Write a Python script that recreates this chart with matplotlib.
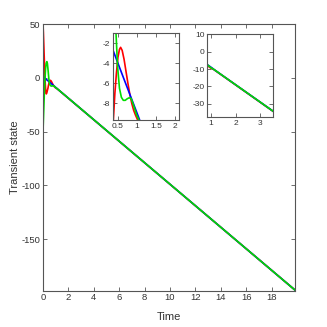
import matplotlib
matplotlib.use('Agg')
import matplotlib.pyplot as plt

# values
t_red = [0, 0.03, 0.06, 0.1, 0.14, 0.18, 0.22, 0.26, 0.3, 0.34, 0.39, 0.43, 0.47, 0.51,
         0.55, 0.58, 0.62, 0.67, 0.72, 0.77, 0.82, 0.87, 0.92, 0.97, 1.04, 1.1, 19.85]
y_red = [50, 42, 32, 18, 5, -6, -13, -15, -14, -12, -9.7, -7, -5, -3.4,
         -2.6, -2.4, -2.7, -3.6, -4.8, -6, -7.1, -8, -8.7, -9.2, -9.8, -10.1, -197.5]

t_green = [0, 0.05, 0.1, 0.15, 0.2, 0.25, 0.31, 0.35, 0.4, 0.43, 0.46, 0.5, 0.55, 0.6,
           0.65, 0.7, 0.75, 0.8, 0.85, 0.9, 0.95, 1.0, 1.05, 1.1, 19.85]
y_green = [-50, -33, -16, -2, 8, 13.5, 15, 13, 7, 3, -1, -4.3, -6.5, -7.4,
           -7.7, -7.7, -7.55, -7.45, -7.5, -8, -8.6, -9.2, -9.6, -10, -197.5]

t_blue = [0, 0.1, 0.2, 0.373, 0.6, 0.8, 1.07, 1.1, 19.85]
y_blue = [1.5, 0.2, -1, -2.6, -4.9, -6.9, -9.6, -10, -197.5]

main_xticks = [0, 2, 4, 6, 8, 10, 12, 14, 16, 18]
main_yticks = [50, 0, -50, -100, -150]
in1_xticks = [0.5, 1, 1.5, 2]
in1_yticks = [-2, -4, -6, -8]
in2_xticks = [1, 2, 3]
in2_yticks = [10, 0, -10, -20, -30]

plt.rcParams['font.family'] = ['Liberation Sans Narrow', 'Liberation Sans', 'DejaVu Sans']
plt.rcParams['axes.unicode_minus'] = False
gray = '#555555'


def style(ax, fs):
    for s in ax.spines.values():
        s.set_color(gray)
        s.set_linewidth(0.8)
    ax.tick_params(direction='in', top=True, right=True, length=3, width=0.6,
                   colors=gray, labelcolor='#333333', labelsize=fs, pad=2)


def draw(ax):
    ax.plot(t_red, y_red, color='#ff0000', lw=1.2)
    ax.plot(t_blue, y_blue, color='#0000ff', lw=1.2)
    ax.plot(t_green, y_green, color='#00dd00', lw=1.2)


fig = plt.figure(figsize=(3.27, 3.27), dpi=100)
ax = fig.add_axes([0.1315, 0.111, 0.771, 0.8156])
draw(ax)
ax.set_xlim(0, 19.85)
ax.set_ylim(-198, 50)
ax.set_xticks(main_xticks)
ax.set_yticks(main_yticks)
style(ax, 6.8)
ax.set_xlabel('Time', fontsize=8, color='#333333')
ax.set_ylabel('Transient state', fontsize=8, color='#333333')
ax.xaxis.set_label_coords(0.5, -0.08)
ax.yaxis.set_label_coords(-0.093, 0.5)

ax1 = fig.add_axes([0.3446, 0.633, 0.2037, 0.265])
draw(ax1)
ax1.set_xlim(0.373, 2.11)
ax1.set_ylim(-9.67, -1)
ax1.set_xticks(in1_xticks)
ax1.set_xticklabels(['0.5', '1', '1.5', '2'])
ax1.set_yticks(in1_yticks)
style(ax1, 6)

ax2 = fig.add_axes([0.634, 0.6413, 0.2018, 0.2547])
draw(ax2)
ax2.set_xlim(0.86, 3.52)
ax2.set_ylim(-37.6, 10)
ax2.set_xticks(in2_xticks)
ax2.set_yticks(in2_yticks)
style(ax2, 6)

fig.savefig('out.png', dpi=100)
